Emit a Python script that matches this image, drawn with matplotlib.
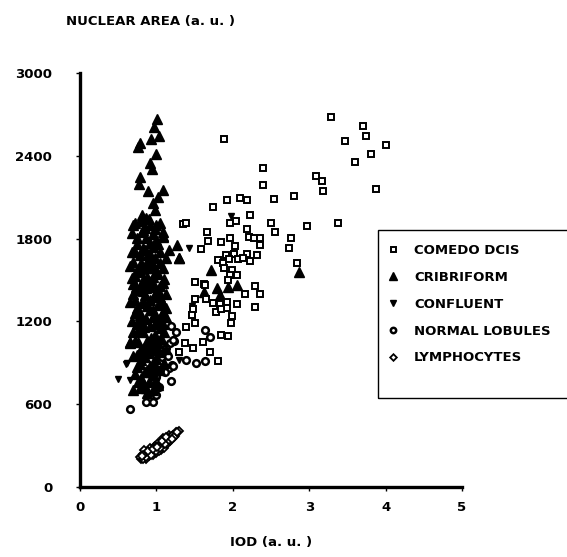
import matplotlib
matplotlib.use('Agg')
import matplotlib.pyplot as plt
from matplotlib.patches import Rectangle

plt.rcParams['font.family'] = ['DejaVu Sans']
plt.rcParams['font.weight'] = 'bold'

# --- data (IOD, nuclear area) ---
comedo_x = [3.29, 3.71, 3.74, 3.47, 4.01, 3.81, 3.60, 3.88, 1.89, 2.40, 2.39, 3.09, 3.17, 3.18,
            2.80, 2.54, 2.09, 2.18, 1.93, 1.74, 2.22, 1.96, 2.04, 1.35, 1.39, 3.38, 2.97, 2.50,
            2.55, 2.19, 2.21, 2.28, 2.35, 2.35, 2.76, 2.73, 2.84, 1.66, 1.67, 1.85, 1.96, 1.59,
            2.03, 2.32, 2.18, 2.22, 1.91, 2.02, 1.81, 1.87, 1.95, 2.07, 2.14, 1.88, 1.99, 2.05,
            1.96, 1.94, 1.51, 1.62, 2.29, 2.36, 1.51, 1.65, 1.74, 1.83, 1.92, 2.05, 2.16, 2.29,
            1.48, 1.46, 1.78, 1.92, 1.99, 1.97, 1.51, 1.39, 1.85, 1.94, 1.37, 1.61, 1.48, 1.29,
            1.70, 1.80, 1.63, 1.47, 1.85]
comedo_y = [2679, 2616, 2543, 2510, 2478, 2413, 2355, 2157, 2519, 2309, 2191, 2254, 2217, 2147,
            2109, 2090, 2097, 2082, 2077, 2026, 1971, 1916, 1925, 1903, 1915, 1916, 1889, 1916,
            1850, 1867, 1814, 1802, 1806, 1754, 1806, 1732, 1621, 1850, 1785, 1773, 1802, 1725,
            1746, 1681, 1688, 1638, 1681, 1688, 1645, 1621, 1650, 1650, 1657, 1585, 1572, 1536,
            1536, 1500, 1483, 1469, 1457, 1396, 1362, 1362, 1336, 1326, 1343, 1326, 1396, 1302,
            1288, 1246, 1270, 1295, 1239, 1186, 1186, 1157, 1101, 1094, 1041, 1048, 1004, 980,
            975, 915, 1464, 1246, 1288]

cribriform_x = [1.01, 0.97, 1.03, 0.93, 0.79, 0.76, 0.99, 0.92, 0.94, 0.78, 0.77, 0.89, 1.09, 1.02,
                0.96, 0.98, 0.81, 0.72, 0.92, 1.05, 0.81, 1.09, 0.74, 0.87, 1.00, 0.83, 0.92, 1.16,
                1.27, 1.29, 0.70, 0.89, 1.05, 0.74, 0.92, 1.09, 0.68, 0.83, 0.96, 0.76, 0.87, 1.00,
                0.72, 0.92, 1.07, 0.79, 0.96, 1.09, 0.70, 0.85, 0.98, 0.75, 0.95, 1.05, 0.78, 0.98,
                0.72, 0.88, 1.02, 0.80, 0.93, 1.05, 0.70, 0.85, 0.98, 0.75, 0.88, 1.02, 0.66, 0.86,
                1.02, 1.12, 0.75, 0.92, 1.05, 0.82, 0.98, 1.10, 0.65, 0.72, 0.88, 1.02, 1.12, 0.80,
                0.95, 0.70, 0.85, 1.00, 1.10, 0.78, 0.92, 0.74, 1.05, 0.85, 0.97, 0.80, 0.90, 0.83,
                1.02, 0.70, 0.79, 0.95, 0.88, 1.30, 2.86, 1.72, 1.62, 1.79, 2.05, 1.94, 1.83, 0.65,
                0.79, 0.90, 1.08, 0.84, 0.97, 0.76, 0.93, 1.06, 0.82, 1.00, 0.68, 0.89, 1.04, 0.78,
                0.94, 0.86, 1.08, 0.73, 0.96,
                0.78, 0.90, 1.00, 0.83, 0.95, 1.08, 0.68, 0.72, 0.85, 0.92, 1.02, 0.80, 0.95, 1.12,
                0.66, 0.78, 0.86, 1.00, 1.10, 0.70, 0.90, 1.02, 0.82, 1.12, 0.72, 0.82, 0.92, 1.05,
                1.12, 0.80, 0.95, 1.06, 0.68, 0.70, 0.84, 0.98, 1.08, 0.76, 0.92, 1.06, 0.84, 1.00,
                0.75, 0.90, 1.04, 0.80, 0.96, 0.72, 0.88, 1.00, 0.76, 0.86, 0.98, 0.92]
cribriform_y = [2670, 2610, 2540, 2520, 2490, 2465, 2413, 2348, 2304, 2244, 2196, 2147, 2152, 2104,
                2056, 2010, 1971, 1911, 1899, 1911, 1850, 1850, 1802, 1802, 1790, 1730, 1766, 1717,
                1754, 1657, 1633, 1645, 1621, 1572, 1585, 1585, 1512, 1500, 1476, 1428, 1440, 1415,
                1355, 1355, 1343, 1246, 1283, 1270, 1900, 1880, 1870, 1760, 1740, 1700, 1680, 1660,
                1530, 1520, 1540, 1460, 1450, 1460, 1400, 1390, 1380, 1300, 1310, 1320, 1340, 1220,
                1210, 1230, 1180, 1170, 1150, 1120, 1100, 1120, 1043, 1060, 1060, 1040, 1000, 1000,
                990, 950, 940, 930, 900, 890, 880, 872, 850, 830, 810, 790, 760, 754,
                740, 703, 717, 700, 680, 1657, 1560, 1575, 1410, 1445, 1465, 1450, 1390, 1053,
                1260, 1600, 1480, 1330, 1250, 1130, 1080, 1190, 970, 1000, 1700, 1690, 1400, 1580,
                1620, 1950, 1820, 1450, 1520,
                1930, 1940, 1900, 1860, 1830, 1810, 1840, 1700, 1720, 1690, 1760, 1620, 1610, 1660,
                1600, 1560, 1590, 1560, 1510, 1470, 1490, 1430, 1420, 1400, 1260, 1350, 1280, 1380,
                1300, 1200, 1230, 1240, 1200, 1120, 1160, 1180, 1180, 1050, 1030, 1080, 1010, 1060,
                960, 970, 980, 920, 900, 820, 850, 870, 760, 720, 770, 830]

confluent_x = [0.61, 0.50, 0.66, 0.78, 1.29, 1.43, 1.98, 1.46, 0.60]
confluent_y = [901, 780, 775, 775, 920, 1730, 1966, 1312, 891]

normal_x = [1.19, 1.23, 1.18, 1.07, 1.13, 1.07, 1.20, 1.16, 1.11, 1.19, 1.05, 1.00, 1.04, 1.00,
            0.96, 0.87, 0.65, 1.52, 1.39, 1.63, 1.22, 1.64, 1.70, 1.22, 1.15, 1.26]
normal_y = [1167, 1058, 1041, 1017, 1004, 944, 884, 860, 836, 768, 848, 799, 727, 667,
            618, 618, 563, 901, 920, 913, 877, 1138, 1085, 1065, 950, 1120]

lympho_x = [0.80, 0.84, 0.86, 0.82, 0.90, 0.93, 0.88, 0.96, 0.92, 1.00, 0.97, 1.04, 1.01, 1.08,
            1.05, 1.12, 1.09, 1.15, 1.12, 1.19, 1.16, 1.22, 1.25, 1.29, 0.86, 0.95, 0.99, 1.06,
            1.10, 1.14, 1.18, 1.02, 0.91, 0.84, 0.79, 1.08, 1.24, 0.98, 1.03, 0.89,
            0.82, 0.85, 0.88, 0.91, 0.94, 0.97, 1.00, 1.03, 1.06, 1.09, 1.12, 1.15, 1.18, 1.21,
            0.87, 0.93, 0.99, 1.05, 1.11, 1.17, 1.23, 0.83, 0.89, 0.95, 1.01, 1.07, 1.13, 1.27,
            0.81, 1.20]
lympho_y = [200, 215, 230, 240, 225, 245, 255, 260, 270, 275, 290, 290, 305, 305,
            320, 325, 340, 345, 355, 360, 375, 380, 395, 408, 205, 235, 250, 270,
            285, 310, 330, 320, 280, 265, 215, 355, 370, 300, 260, 240,
            205, 222, 238, 250, 262, 272, 287, 298, 312, 322, 338, 352, 365, 372,
            215, 232, 262, 285, 312, 340, 362, 230, 262, 278, 292, 330, 360, 400,
            225, 350]

fig = plt.figure(figsize=(5.67, 5.57), dpi=100)
ax = fig.add_axes([80 / 567, 70 / 557, 382 / 567, 414 / 557])

ax.plot(lympho_x, lympho_y, 'D', ms=4.2, mfc='white', mec='black', mew=1.3,
        ls='none', label='LYMPHOCYTES')
ax.plot(normal_x, normal_y, 'o', ms=4.8, mfc='white', mec='black', mew=1.8,
        ls='none', label='NORMAL LOBULES')
ax.plot(cribriform_x, cribriform_y, '^', ms=6.8, color='black',
        ls='none', label='CRIBRIFORM')
ax.plot(confluent_x, confluent_y, 'v', ms=5, color='black',
        ls='none', label='CONFLUENT')
ax.plot(comedo_x, comedo_y, 's', ms=4.5, mfc='white', mec='black', mew=1.4,
        ls='none', label='COMEDO DCIS')

ax.set_xlim(0, 5)
ax.set_ylim(0, 3000)
ax.set_xticks([0, 1, 2, 3, 4, 5])
ax.set_yticks([0, 600, 1200, 1800, 2400, 3000])
for s in ['top', 'right']:
    ax.spines[s].set_visible(False)
for s in ['left', 'bottom']:
    ax.spines[s].set_linewidth(2.4)
ax.tick_params(axis='y', direction='out', length=3, width=1, pad=17, labelsize=9.5)
ax.tick_params(axis='x', direction='out', length=3, width=1, pad=7, labelsize=9.5)
for lab in ax.get_xticklabels() + ax.get_yticklabels():
    lab.set_fontweight('bold')

ax.set_xlabel('IOD (a. u. )', fontsize=9.5, fontweight='bold', labelpad=16)
fig.text(150 / 567, 1 - 21 / 557, 'NUCLEAR AREA (a. u. )', fontsize=9.5,
         fontweight='bold', ha='center', va='center')

# legend box, open past the right edge like the scan
fig.patches.append(Rectangle((378 / 567, 1 - 398 / 557), 220 / 567, 168 / 557,
                             transform=fig.transFigure, fill=False,
                             edgecolor='black', linewidth=1))
handles, labels = ax.get_legend_handles_labels()
order = [4, 2, 3, 1, 0]
fig.legend([handles[i] for i in order], [labels[i] for i in order],
           loc='upper left', bbox_to_anchor=(385 / 567, 1 - 244 / 557),
           frameon=False, handlelength=1.2, handletextpad=1.0,
           labelspacing=1.05, borderpad=0, borderaxespad=0, markerscale=0.8,
           prop={'weight': 'bold', 'size': 9.5})

fig.savefig('out.png', dpi=100)
